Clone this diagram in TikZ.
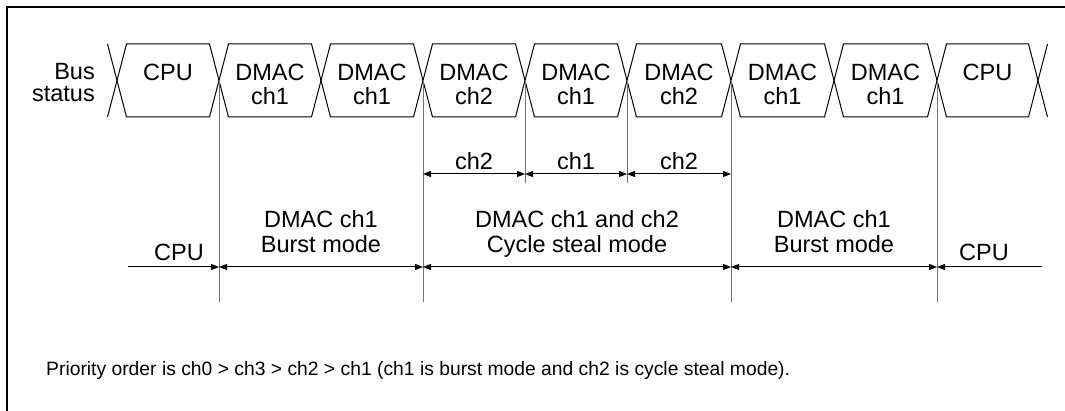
\documentclass[tikz,border=0pt]{standalone}
\usepackage{fontspec}
\setmainfont{Liberation Sans}
\usetikzlibrary{arrows.meta}
\newcommand{\twoline}[2]{\begin{tabular}[t]{@{}c@{}}#1\\#2\end{tabular}}
\begin{document}
\begin{tikzpicture}[x=1pt,y=-1pt,
  frame/.style={line width=1.4pt,black},
  wave/.style={line width=1pt,black},
  guide/.style={line width=1pt,black!55},
  dimarrow/.style={line width=1pt,{Triangle[length=8pt,width=6pt]}-{Triangle[length=8pt,width=6pt]}},
  onearrow/.style={line width=1pt,-{Triangle[length=8pt,width=6pt]}},
  boxlbl/.style={font=\fontsize{23.5}{21}\selectfont,inner sep=0pt,anchor=base},
  modelbl/.style={font=\fontsize{23.5}{25}\selectfont,inner sep=0pt,anchor=base},
  note/.style={font=\fontsize{19.3}{23}\selectfont,inner sep=0pt,anchor=base west}
]
\useasboundingbox (0,0) rectangle (1065,411);
% partial frame
\draw[frame] (7,411) -- (7,7) -- (1065,7);

% crossing points of the bus status waveform
\foreach \x [count=\i from 0] in {117,219,321,423,525,627,731,834,937,1038}
  \coordinate (c\i) at (\x,80.5);

% outer halves of first and last crossing
\draw[wave] (107.5,44) -- (c0) -- (107.5,117);
\draw[wave] (1047.5,44) -- (c9) -- (1047.5,117);
% hexagonal bus cycles
\foreach \a/\b in {0/1,1/2,2/3,3/4,4/5,5/6,6/7,7/8,8/9}{
  \draw[wave] (c\a) -- ([shift={(9.5,-36.5)}]c\a) -- ([shift={(-9.5,-36.5)}]c\b) -- (c\b)
     -- ([shift={(-9.5,36.5)}]c\b) -- ([shift={(9.5,36.5)}]c\a) -- cycle;
}

% bus status labels
\node[boxlbl,anchor=base east] (bus) at (95,80) {Bus};
\node[boxlbl,anchor=base east] (status) at (95,102) {status};
\node[boxlbl] (b1) at (168,81) {CPU};
\node[boxlbl] (b2) at (270,81) {\twoline{DMAC}{ch1}};
\node[boxlbl] (b3) at (372,81) {\twoline{DMAC}{ch1}};
\node[boxlbl] (b4) at (474,81) {\twoline{DMAC}{ch2}};
\node[boxlbl] (b5) at (576,81) {\twoline{DMAC}{ch1}};
\node[boxlbl] (b6) at (679,81) {\twoline{DMAC}{ch2}};
\node[boxlbl] (b7) at (782.5,81) {\twoline{DMAC}{ch1}};
\node[boxlbl] (b8) at (885.5,81) {\twoline{DMAC}{ch1}};
\node[boxlbl] (b9) at (987.5,81) {CPU};

% guide lines down from crossings
\coordinate (g1) at (219,302);
\coordinate (g3) at (423,302);
\coordinate (g4) at (525,183);
\coordinate (g5) at (627,183);
\coordinate (g6) at (731,302);
\coordinate (g8) at (937,302);
\draw[guide] (c1) -- (g1);
\draw[guide] (c3) -- (g3);
\draw[guide] (c4) -- (g4);
\draw[guide] (c5) -- (g5);
\draw[guide] (c6) -- (g6);
\draw[guide] (c8) -- (g8);

% cycle-steal dimension arrows
\coordinate (s3) at (423,174);
\coordinate (s4) at (525,174);
\coordinate (s5) at (627,174);
\coordinate (s6) at (731,174);
\draw[dimarrow] (s3) -- (s4);
\draw[dimarrow] (s4) -- (s5);
\draw[dimarrow] (s5) -- (s6);
\node[boxlbl] (t1) at (474,170) {ch2};
\node[boxlbl] (t2) at (576,170) {ch1};
\node[boxlbl] (t3) at (679,170) {ch2};

% mode arrows
\coordinate (m0) at (128,267);
\coordinate (m1) at (219,267);
\coordinate (m3) at (423,267);
\coordinate (m6) at (731,267);
\coordinate (m8) at (937,267);
\coordinate (m9) at (1042,267);
\draw[onearrow] (m0) -- (m1);
\draw[dimarrow] (m1) -- (m3);
\draw[dimarrow] (m3) -- (m6);
\draw[dimarrow] (m6) -- (m8);
\draw[onearrow] (m9) -- (m8);

\node[modelbl] (cpuA) at (179,261) {CPU};
\node[modelbl] (modeA) at (321,228) {\begin{tabular}[t]{@{}c@{}}DMAC ch1\\Burst mode\end{tabular}};
\node[modelbl] (modeB) at (577,228) {\begin{tabular}[t]{@{}c@{}}DMAC ch1 and ch2\\Cycle steal mode\end{tabular}};
\node[modelbl] (modeC) at (834,228) {\begin{tabular}[t]{@{}c@{}}DMAC ch1\\Burst mode\end{tabular}};
\node[modelbl] (cpuB) at (984,261) {CPU};

% note
\node[note] (prio) at (46,375) {Priority order is ch0 > ch3 > ch2 > ch1 (ch1 is burst mode and ch2 is cycle steal mode).};
\end{tikzpicture}
\end{document}
